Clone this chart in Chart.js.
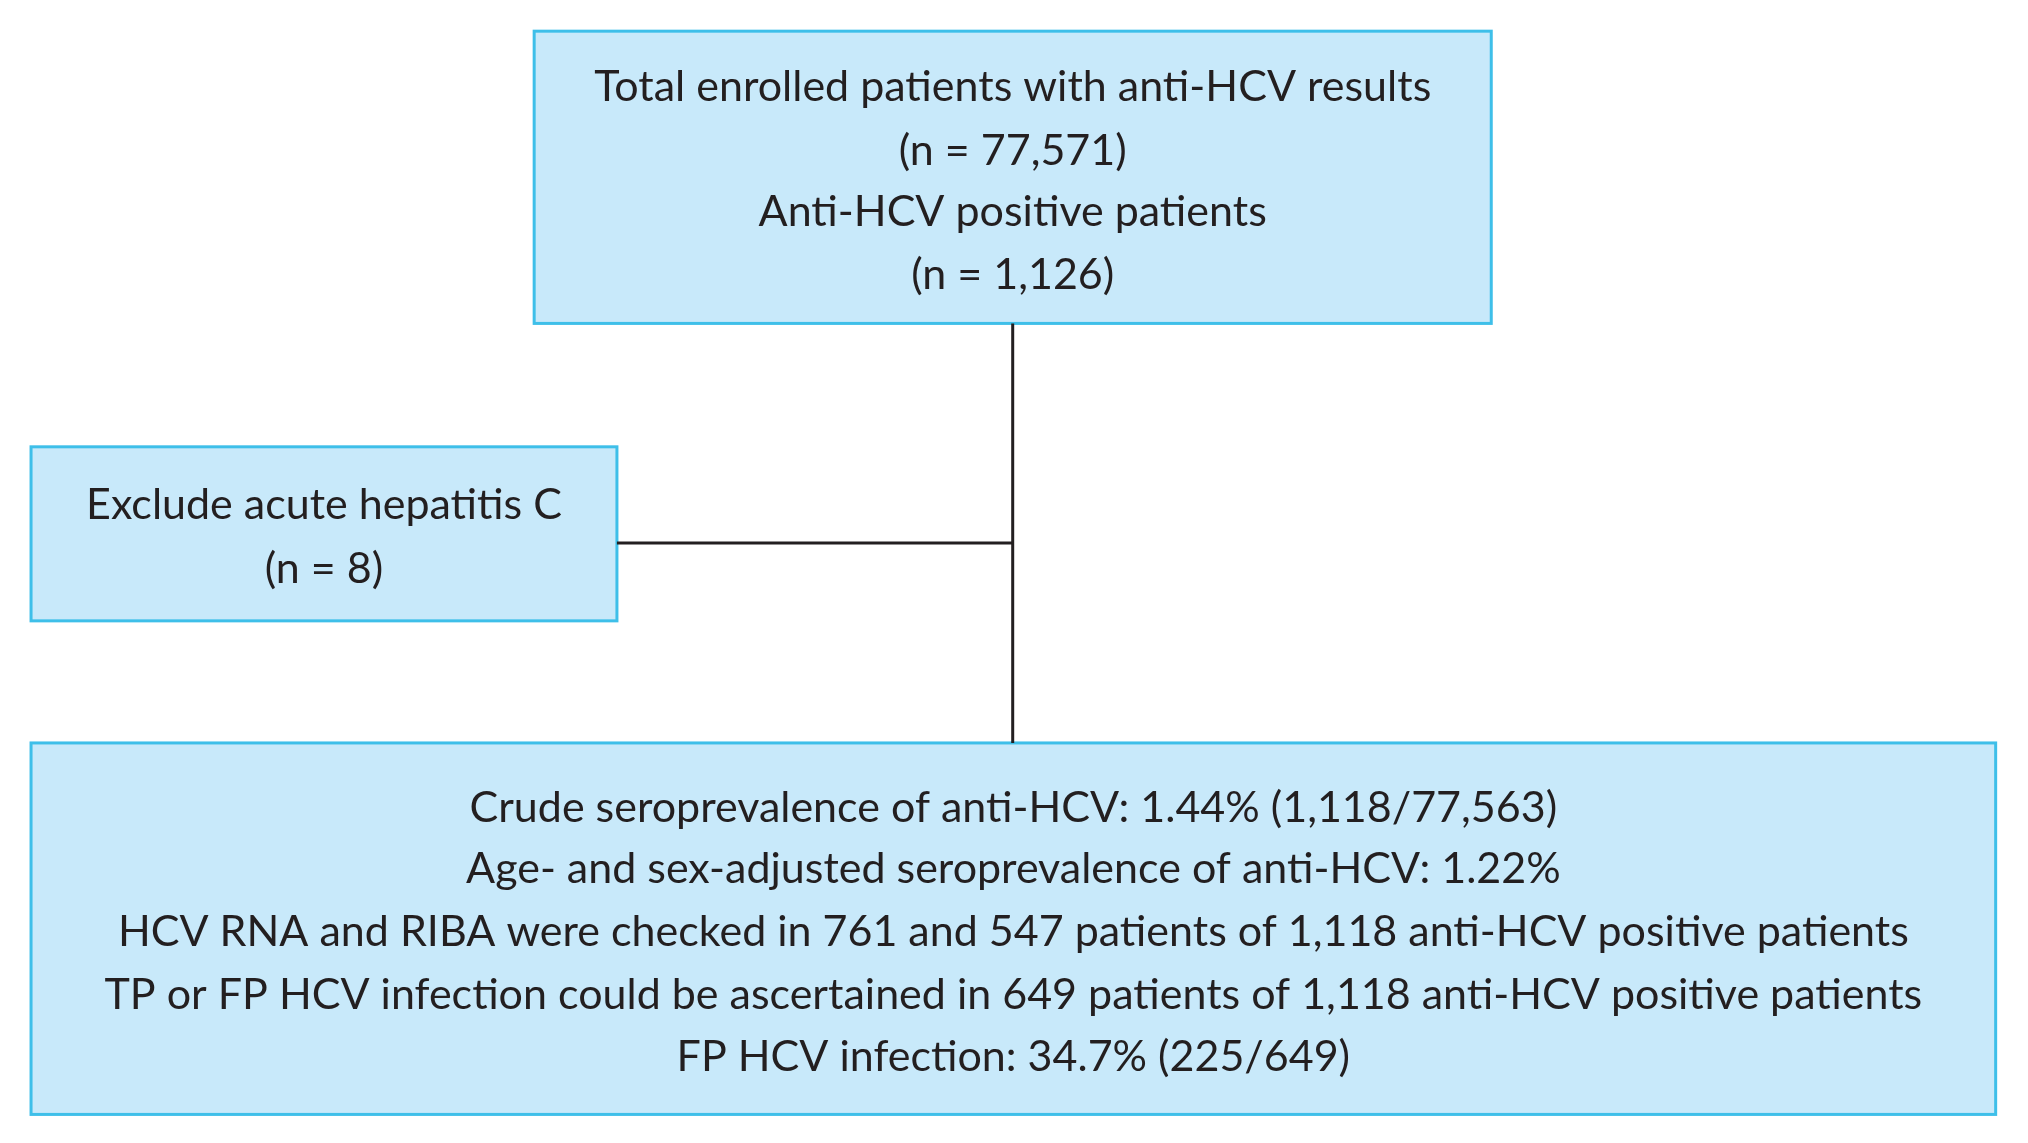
<!DOCTYPE html>
<html><head><meta charset="utf-8">
<script src="https://cdn.jsdelivr.net/npm/chart.js@4"></script>
<style>html,body{margin:0;padding:0;background:#fff}#w{width:2028px;height:1143px}</style>
</head><body><div id="w"><canvas id="c"></canvas></div>
<script>
// Flowchart boxes in reference units (x0,x1,y0,y1) and their text lines
const boxX0 = [413, 24, 24];
const boxX1 = [1153, 477, 1543];
const boxY0 = [24, 344, 572];
const boxY1 = [249, 478, 858];
const boxLines = [
  ["Total enrolled patients with anti-HCV results", "(n = 77,571)", "Anti-HCV positive patients", "(n = 1,126)"],
  ["Exclude acute hepatitis C", "(n = 8)"],
  ["Crude seroprevalence of anti-HCV: 1.44% (1,118/77,563)",
   "Age- and sex-adjusted seroprevalence of anti-HCV: 1.22%",
   "HCV RNA and RIBA were checked in 761 and 547 patients of 1,118 anti-HCV positive patients",
   "TP or FP HCV infection could be ascertained in 649 patients of 1,118 anti-HCV positive patients",
   "FP HCV infection: 34.7% (225/649)"]
];
const lineY = [[67,116,163,212],[389,438],[622,669,718,766,814]];
const connV = [{x:783,y:249},{x:783,y:572}];
const connH = [{x:477,y:418},{x:783,y:418}];

const flow = {
  id:'flow',
  beforeDatasetsDraw(ch){
    const {ctx, scales:{x,y}} = ch;
    ctx.save();
    for(let i=0;i<boxX0.length;i++){
      const l=x.getPixelForValue(boxX0[i]), r=x.getPixelForValue(boxX1[i]);
      const t=y.getPixelForValue(boxY0[i]), b=y.getPixelForValue(boxY1[i]);
      ctx.fillStyle='#c8e9fa'; ctx.fillRect(l,t,r-l,b-t);
      ctx.strokeStyle='#3ebfe9'; ctx.lineWidth=3; ctx.strokeRect(l,t,r-l,b-t);
      ctx.fillStyle='#231f20'; ctx.font='43px Lato'; ctx.textAlign='center'; ctx.textBaseline='middle';
      const cx=(l+r)/2;
      boxLines[i].forEach((s,j)=>ctx.fillText(s,cx,y.getPixelForValue(lineY[i][j])));
    }
    ctx.restore();
  }
};
new Chart(document.getElementById('c'),{
  type:'scatter',
  data:{datasets:[
    {data:connV,showLine:true,borderColor:'#231f20',borderWidth:3,pointRadius:0},
    {data:connH,showLine:true,borderColor:'#231f20',borderWidth:3,pointRadius:0}
  ]},
  options:{responsive:true,maintainAspectRatio:false,animation:false,
    layout:{padding:0},
    plugins:{legend:{display:false},tooltip:{enabled:false}},
    scales:{x:{type:'linear',min:0,max:1568,display:false},
            y:{type:'linear',min:0,max:880,reverse:true,display:false}}},
  plugins:[flow]
});
</script></body></html>
